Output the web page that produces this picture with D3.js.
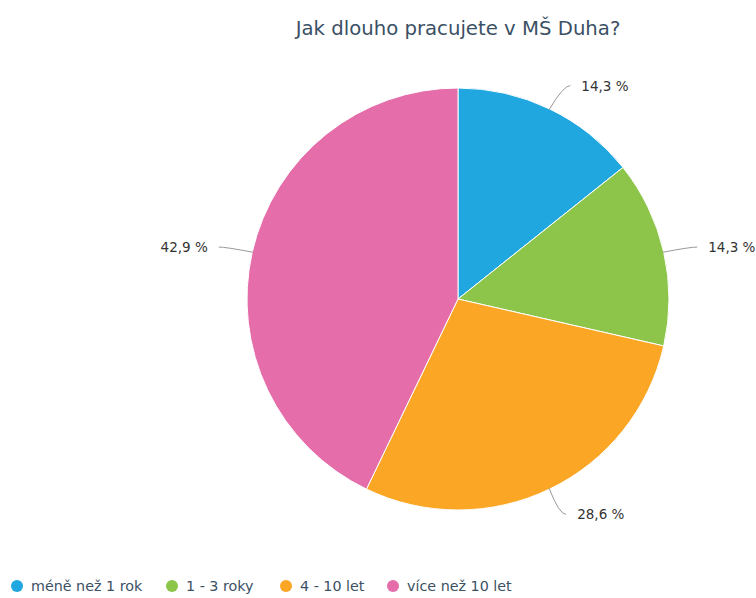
<!DOCTYPE html>
<html>
<head>
<meta charset="utf-8">
<script src="https://cdnjs.cloudflare.com/ajax/libs/d3/7.8.5/d3.min.js"></script>
<style>
  body { margin: 0; background: #fff; }
  text { font-family: "DejaVu Sans", sans-serif; }
</style>
</head>
<body>
<script>
  const categories = ["méně než 1 rok", "1 - 3 roky", "4 - 10 let", "více než 10 let"];
  const values = [1, 1, 2, 3];
  const percentLabels = ["14,3 %", "14,3 %", "28,6 %", "42,9 %"];
  const colors = ["#21a7e0", "#8cc54a", "#fba624", "#e56daa"];

  const w = 756, h = 598;
  const cx = 458, cy = 299, r = 211;
  const dist = 27;

  const svg = d3.select("body").append("svg")
    .attr("width", w)
    .attr("height", h);

  svg.append("text")
    .attr("x", cx)
    .attr("y", 35)
    .attr("text-anchor", "middle")
    .attr("font-size", 19.7)
    .attr("fill", "#3b5064")
    .text("Jak dlouho pracujete v MŠ Duha?");

  const pie = d3.pie().sort(null).value(d => d);
  const arcs = pie(values);
  const arc = d3.arc().innerRadius(0).outerRadius(r);

  const g = svg.append("g").attr("transform", `translate(${cx},${cy})`);

  g.selectAll("path.slice")
    .data(arcs)
    .enter()
    .append("path")
    .attr("class", "slice")
    .attr("d", arc)
    .attr("fill", (d, i) => colors[i])
    .attr("stroke", "#fff")
    .attr("stroke-width", 1);

  // labels with soft connectors
  arcs.forEach((a, i) => {
    const mid = (a.startAngle + a.endAngle) / 2;
    const sx = Math.sin(mid), sy = -Math.cos(mid);
    const ex = sx * (r - 1), ey = sy * (r - 1);
    const ly = sy * (r + dist) + 1;
    const side = sx >= 0 ? 1 : -1;
    const lx = side * Math.sqrt((r + dist) ** 2 - ly * ly);
    const endX = lx + side * 7;
    g.append("path")
      .attr("d", `M${ex},${ey} Q${lx},${ly} ${endX},${ly}`)
      .attr("fill", "none")
      .attr("stroke", "#999")
      .attr("stroke-width", 1);
    g.append("text")
      .attr("x", lx + side * 18)
      .attr("y", ly + 5)
      .attr("text-anchor", side > 0 ? "start" : "end")
      .attr("font-size", 13.5)
      .attr("fill", "#333")
      .text(percentLabels[i]);
  });

  // legend
  const legendX = [17, 172, 286, 393];
  const legend = svg.append("g");
  categories.forEach((c, i) => {
    legend.append("circle")
      .attr("cx", legendX[i])
      .attr("cy", 586)
      .attr("r", 6)
      .attr("fill", colors[i]);
    legend.append("text")
      .attr("x", legendX[i] + 14)
      .attr("y", 591)
      .attr("font-size", 14.3)
      .attr("fill", "#3b5064")
      .text(c);
  });
</script>
</body>
</html>
